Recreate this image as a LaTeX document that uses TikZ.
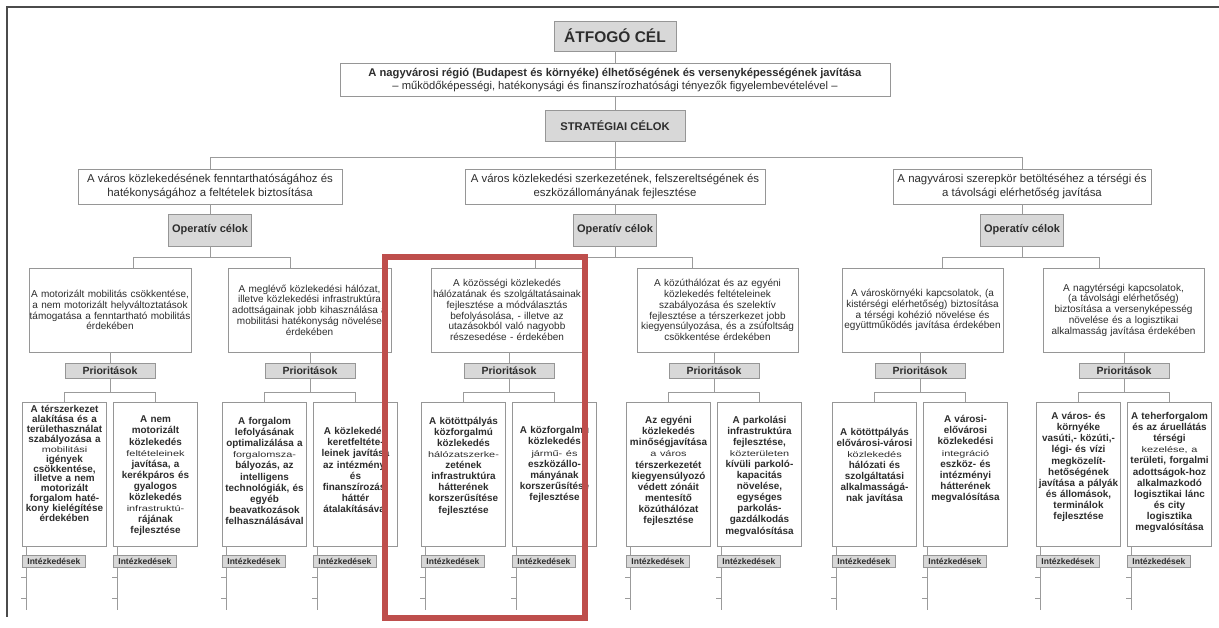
\documentclass[tikz,border=0pt]{standalone}
\usepackage{fontspec}
\setmainfont{Liberation Sans}
\usepackage{graphicx}
\usetikzlibrary{calc}
\definecolor{linegray}{RGB}{155,155,155}
\definecolor{boxgray}{RGB}{150,150,150}
\definecolor{fillgray}{RGB}{216,216,216}
\definecolor{txt}{RGB}{45,45,45}
\definecolor{redframe}{RGB}{190,78,76}
\definecolor{framegray}{RGB}{75,75,75}
\newcommand\smtxt[1]{\scalebox{1.1}[0.82]{\mdseries #1}}
\newcommand\PBox[5][]{%
  \node[pbox] (#2) at (#3,474) {};
  \node[ptext,#1] (#2t) at (#3,#4) {#5};
  \draw[conn] ([xshift=4pt]#2.south west) -- ++(0,64);
  \draw[conn] ([xshift=-1pt,yshift=-31pt]#2.south west) -- ++(6,0);
  \draw[conn] ([xshift=-1pt,yshift=-52pt]#2.south west) -- ++(6,0);
  \node[intbox, anchor=north west] (#2i) at ([yshift=-9pt]#2.south west) {Intézkedések};
}
\begin{document}
\begin{tikzpicture}[x=1pt,y=-1pt,
 conn/.style={draw=linegray, line width=0.9pt},
 hdr/.style={draw=boxgray, fill=fillgray, line width=0.8pt, inner sep=0pt, text=txt},
 wbox/.style={draw=boxgray, fill=white, line width=0.8pt, inner sep=0pt, text=txt, align=center},
 obox/.style={wbox, minimum height=84pt, font=\fontsize{10}{10.8}\selectfont},
 pbox/.style={draw=boxgray, fill=white, line width=0.8pt, minimum width=84pt, minimum height=144pt, inner sep=0pt},
 ptext/.style={inner sep=0pt, text width=84pt, align=center, text=txt, font=\fontsize{9.9}{11.1}\selectfont\bfseries},
 intbox/.style={draw=boxgray, fill=fillgray, line width=0.6pt, inner sep=0pt, minimum width=63pt, minimum height=12pt, text=txt, font=\fontsize{8.5}{8.5}\selectfont\bfseries},
 prhdr/.style={hdr, minimum width=90pt, minimum height=15pt, font=\fontsize{10.5}{10.5}\selectfont\bfseries},
 ophdr/.style={hdr, minimum width=83pt, minimum height=32pt, font=\fontsize{11}{11}\selectfont\bfseries}
]
\useasboundingbox (0,0) rectangle (1219,627);
\fill[white] (0,0) rectangle (1219,627);
\draw[framegray, line width=2.2pt] (1219,7) -- (7,7) -- (7,617);

% top levels
\node[hdr, minimum width=122pt, minimum height=30pt, font=\fontsize{15.5}{15.5}\selectfont\bfseries] (cel) at (615,36) {ÁTFOGÓ CÉL};
\node[wbox, minimum width=550pt, minimum height=33pt, font=\fontsize{11.2}{13}\selectfont] (goal) at (615,80) {\textbf{A nagyvárosi régió (Budapest és környéke) élhetőségének és versenyképességének javítása}\\ – működőképességi, hatékonysági és finanszírozhatósági tényezők figyelembevételével –};
\node[hdr, minimum width=140pt, minimum height=31pt, font=\fontsize{11.2}{11.2}\selectfont\bfseries] (strat) at (615,125.5) {STRATÉGIAI CÉLOK};

\node[wbox, minimum width=264pt, minimum height=35pt, font=\fontsize{11.4}{14.5}\selectfont] (s1) at (210,186.5) {A város közlekedésének fenntarthatóságához és\\ hatékonyságához a feltételek biztosítása};
\node[wbox, minimum width=300pt, minimum height=35pt, font=\fontsize{11.4}{14.5}\selectfont] (s2) at (615,186.5) {A város közlekedési szerkezetének, felszereltségének és\\ eszközállományának fejlesztése};
\node[wbox, minimum width=258pt, minimum height=35pt, font=\fontsize{11.4}{14.5}\selectfont] (s3) at (1022,186.5) {A nagyvárosi szerepkör betöltéséhez a térségi és\\ a távolsági elérhetőség javítása};

\draw[conn] (cel.south) -- (goal.north);
\draw[conn] (goal.south) -- (strat.north);
\draw[conn] (strat.south) -- ++(0,16.5) coordinate (sb);
\draw[conn] (s1.north) |- (sb) -| (s3.north);
\draw[conn] (sb) -- (s2.north);

% operative
\node[ophdr] (oc1) at (210,230) {Operatív célok};
\node[ophdr] (oc2) at (615,230) {Operatív célok};
\node[ophdr] (oc3) at (1022,230) {Operatív célok};
\draw[conn] (s1.south) -- (oc1.north);
\draw[conn] (s2.south) -- (oc2.north);
\draw[conn] (s3.south) -- (oc3.north);

\node[obox, text width=162pt] (op1) at (110,310) {A motorizált mobilitás csökkentése,\\ a nem motorizált helyváltoztatások\\ támogatása a fenntartható mobilitás\\ érdekében};
\node[obox, text width=163pt] (op2) at (309.5,310) {A meglévő közlekedési hálózat,\\ illetve közlekedési infrastruktúra\\ adottságainak jobb kihasználása a\\ mobilitási hatékonyság növelése\\ érdekében};
\node[obox, text width=152pt] (op3) at (507,310) {A közösségi közlekedés\\ hálózatának és szolgáltatásainak\\ fejlesztése a módválasztás\\ befolyásolása, - illetve az\\ utazásokból való nagyobb\\ részesedése - érdekében};
\node[obox, text width=161pt] (op4) at (717.5,310) {A közúthálózat és az egyéni\\ közlekedés feltételeinek\\ szabályozása és szelektív\\ fejlesztése a térszerkezet jobb\\ kiegyensúlyozása, és a zsúfoltság\\ csökkentése érdekében};
\node[obox, text width=161pt] (op5) at (922.5,310) {A városkörnyéki kapcsolatok, (a\\ kistérségi elérhetőség) biztosítása\\ a térségi kohézió növelése és\\ együttműködés javítása érdekében};
\node[obox, text width=161pt] (op6) at (1123.5,310) {A nagytérségi kapcsolatok,\\ (a távolsági elérhetőség)\\ biztosítása a versenyképesség\\ növelése és a logisztikai\\ alkalmasság javítása érdekében};

\draw[conn] (oc1.south) -- ++(0,11) coordinate (ob1);
\draw[conn] ([xshift=23pt]op1.north) |- (ob1) -| ([xshift=-19.5pt]op2.north);
\draw[conn] (oc2.south) -- ++(0,11) coordinate (ob2);
\draw[conn] ([xshift=28pt]op3.north) |- (ob2) -| ([xshift=-25.5pt]op4.north);
\draw[conn] (oc3.south) -- ++(0,11) coordinate (ob3);
\draw[conn] ([xshift=19.5pt]op5.north) |- (ob3) -| ([xshift=-24.5pt]op6.north);

% priorities headers
\node[prhdr] (pr1) at (110,370.5) {Prioritások};
\node[prhdr] (pr2) at (310,370.5) {Prioritások};
\node[prhdr] (pr3) at (509,370.5) {Prioritások};
\node[prhdr] (pr4) at (714,370.5) {Prioritások};
\node[prhdr] (pr5) at (920,370.5) {Prioritások};
\node[prhdr] (pr6) at (1124,370.5) {Prioritások};
\foreach \i in {1,...,6} {
  \draw[conn] (pr\i.north) -- (pr\i.north |- op\i.south);
  \draw[conn] (pr\i.south) -- ++(0,14) coordinate (pb\i);
}

% priority boxes
\PBox[font=\fontsize{9.9}{9.9}\selectfont\bfseries]{pA}{64.5}{463.5}{A térszerkezet\\ alakítása és a\\ területhasználat\\ szabályozása a\\ \smtxt{mobilitási}\\ igények\\ csökkentése,\\ illetve a nem\\ motorizált\\ forgalom haté-\\ kony kielégítése\\ érdekében}
\PBox{pB}{155.5}{476}{A nem\\ motorizált\\ közlekedés\\ \smtxt{feltételeinek}\\ javítása, a\\ kerékpáros és\\ gyalogos\\ közlekedés\\ \smtxt{infrastruktú-}\\ rájának\\ fejlesztése}
\PBox{pC}{264.5}{471}{A forgalom\\ lefolyásának\\ optimalizálása a\\ \smtxt{forgalomsza-}\\ bályozás, az\\ intelligens\\ technológiák, és\\ egyéb\\ beavatkozások\\ felhasználásával}
\PBox{pD}{355.5}{470}{A közlekedés\\ keretfeltéte-\\ leinek javítása\\ az intézményi\\ és\\ finanszírozási\\ háttér\\ átalakításával}
\PBox{pE}{463.5}{466}{A kötöttpályás\\ közforgalmú\\ közlekedés\\ \smtxt{hálózatszerke-}\\ zetének\\ infrastruktúra\\ hátterének\\ korszerűsítése\\ fejlesztése}
\PBox{pF}{554.5}{464.5}{A közforgalmú\\ közlekedés\\ \smtxt{jármű- és}\\ eszközállo-\\ mányának\\ korszerűsítése\\ fejlesztése}
\PBox{pG}{668.5}{471}{Az egyéni\\ közlekedés\\ minőségjavítása\\ \smtxt{a város}\\ térszerkezetét\\ kiegyensúlyozó\\ védett zónáit\\ mentesítő\\ közúthálózat\\ fejlesztése}
\PBox{pH}{759.5}{476}{A parkolási\\ infrastruktúra\\ fejlesztése,\\ \smtxt{közterületen}\\ kívüli parkoló-\\ kapacitás\\ növelése,\\ egységes\\ parkolás-\\ gazdálkodás\\ megvalósítása}
\PBox{pI}{874.5}{466}{A kötöttpályás\\ elővárosi-városi\\ \smtxt{közlekedés}\\ hálózati és\\ szolgáltatási\\ alkalmasságá-\\ nak javítása}
\PBox{pJ}{965.5}{459}{A városi-\\ elővárosi\\ közlekedési\\ \smtxt{integráció}\\ eszköz- és\\ intézményi\\ hátterének\\ megvalósítása}
\PBox{pK}{1078.5}{467}{A város- és\\ környéke\\ vasúti,- közúti,-\\ légi- és vízi\\ megközelít-\\ hetőségének\\ javítása a pályák\\ és állomások,\\ terminálok\\ fejlesztése}
\PBox{pL}{1169.5}{472.5}{A teherforgalom\\ és az áruellátás\\ térségi\\ \smtxt{kezelése, a}\\ területi, forgalmi\\ adottságok-hoz\\ alkalmazkodó\\ logisztikai lánc\\ és city\\ logisztika\\ megvalósítása}

\draw[conn] (pA.north) |- (pb1) -| (pB.north);
\draw[conn] (pC.north) |- (pb2) -| (pD.north);
\draw[conn] (pE.north) |- (pb3) -| (pF.north);
\draw[conn] (pG.north) |- (pb4) -| (pH.north);
\draw[conn] (pI.north) |- (pb5) -| (pJ.north);
\draw[conn] (pK.north) |- (pb6) -| (pL.north);

% highlight frame
\draw[redframe, line width=5.5pt] (385,257) rectangle (585,618);
\end{tikzpicture}
\end{document}
